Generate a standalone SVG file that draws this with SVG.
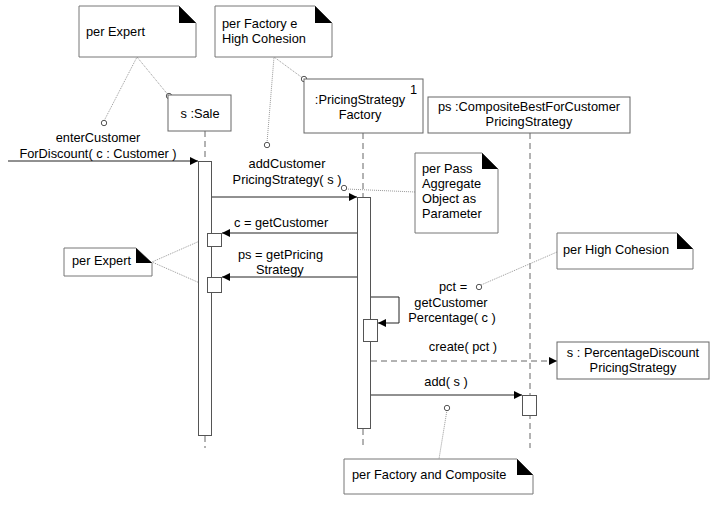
<svg xmlns="http://www.w3.org/2000/svg" width="719" height="517" viewBox="0 0 719 517">
<style>
text{font-family:"Liberation Sans",Arial,sans-serif;font-size:12.8px;fill:#000}
.c{text-anchor:middle}
.box{fill:#fff;stroke:#666;stroke-width:1}
.note{fill:#fff;stroke:#777;stroke-width:1}
.fold{fill:#000}
.life{stroke:#666;stroke-width:1;stroke-dasharray:6,4;fill:none}
.act{fill:#fff;stroke:#555;stroke-width:1}
.msg{stroke:#222;stroke-width:1;fill:none;marker-end:url(#ah)}
.dmsg{stroke:#666;stroke-width:1;fill:none;stroke-dasharray:6,4;marker-end:url(#ah)}
.dot{stroke:#999;stroke-width:1;stroke-dasharray:1,1;fill:none}
.anc{fill:#fff;stroke:#555;stroke-width:1}
</style>
<defs>
<marker id="ah" viewBox="0 0 10 10" refX="10" refY="5" markerUnits="userSpaceOnUse" markerWidth="8" markerHeight="8" orient="auto">
<path d="M0,0 L10,5 L0,10 z" fill="#000"/>
</marker>
</defs>
<rect width="719" height="517" fill="#fff"/>

<g id="connectors">
<line class="life" x1="205" y1="131" x2="205" y2="161"/>
<line class="life" x1="205" y1="436" x2="205" y2="448"/>
<line class="life" x1="363" y1="133" x2="363" y2="197"/>
<line class="life" x1="363" y1="429" x2="363" y2="448"/>
<line class="life" x1="530" y1="133" x2="530" y2="448"/>
<line class="msg" x1="8" y1="161" x2="198" y2="161"/>
<line class="msg" x1="212" y1="197" x2="357" y2="197"/>
<line class="msg" x1="357" y1="233" x2="222" y2="233"/>
<line class="msg" x1="357" y1="277" x2="222" y2="277"/>
<polyline class="msg" points="371,297 399,297 399,323 378,323"/>
<line class="dmsg" x1="371" y1="361" x2="557" y2="361"/>
<line class="msg" x1="371" y1="395" x2="522" y2="395"/>
<polyline class="dot" points="104,121 137,57 169,96"/>
<polyline class="dot" points="267,143 274,57 304,79"/>
<line class="dot" x1="346" y1="189" x2="415" y2="192"/>
<line class="dot" x1="481" y1="285" x2="557" y2="252"/>
<polyline class="dot" points="202,240 152,262 202,284"/>
<line class="dot" x1="447" y1="410" x2="439" y2="459"/>
<g id="anchors">
<circle class="anc" cx="104" cy="123" r="2.7"/>
<circle class="anc" cx="169" cy="96" r="2.7"/>
<circle class="anc" cx="267" cy="145" r="2.7"/>
<circle class="anc" cx="304" cy="79" r="2.7"/>
<circle class="anc" cx="344" cy="188" r="2.7"/>
<circle class="anc" cx="479" cy="287" r="2.7"/>
<circle class="anc" cx="202" cy="240" r="2.7"/>
<circle class="anc" cx="202" cy="284" r="2.7"/>
<circle class="anc" cx="447" cy="408" r="2.7"/>
</g>
</g>

<g id="sale">
<rect class="box" x="168" y="95" width="63" height="36"/>
<text class="c" x="200" y="118">s :Sale</text>
<rect class="act" x="198.5" y="161.5" width="13" height="274"/>
<rect class="act" x="207.5" y="233.5" width="14" height="13"/>
<rect class="act" x="207.5" y="277.5" width="14" height="15"/>
</g>

<g id="factory">
<rect class="box" x="304" y="79" width="119" height="54"/>
<text class="c" x="360" y="104">:PricingStrategy</text>
<text class="c" x="360" y="119">Factory</text>
<text x="410" y="94">1</text>
<rect class="act" x="357.5" y="197.5" width="13" height="231"/>
<rect class="act" x="363.5" y="319.5" width="14" height="22"/>
</g>

<g id="composite">
<rect class="box" x="428" y="97" width="202" height="36"/>
<text class="c" x="529" y="111">ps :CompositeBestForCustomer</text>
<text class="c" x="529" y="126">PricingStrategy</text>
<rect class="act" x="522.5" y="395.5" width="14" height="20"/>
</g>

<g id="percentage">
<rect class="box" x="557" y="342" width="152" height="37"/>
<text class="c" x="633" y="357">s : PercentageDiscount</text>
<text class="c" x="633" y="372">PricingStrategy</text>
</g>

<g id="note-expert1">
<polygon class="note" points="79,6 179,6 196,23 196,57 79,57"/>
<polygon class="fold" points="179,6 179,23 196,23"/>
<text x="86" y="36">per Expert</text>
</g>

<g id="note-factory">
<polygon class="note" points="215,6 315,6 332,23 332,57 215,57"/>
<polygon class="fold" points="315,6 315,23 332,23"/>
<text x="222" y="28">per Factory e</text>
<text x="222" y="43">High Cohesion</text>
</g>

<g id="note-pass">
<polygon class="note" points="415,153 482,153 498,169 498,233 415,233"/>
<polygon class="fold" points="482,153 482,169 498,169"/>
<text x="422" y="173">per Pass</text>
<text x="422" y="188">Aggregate</text>
<text x="422" y="203">Object as</text>
<text x="422" y="218">Parameter</text>
</g>

<g id="note-cohesion">
<polygon class="note" points="557,233 677,233 693,249 693,269 557,269"/>
<polygon class="fold" points="677,233 677,249 693,249"/>
<text x="563" y="254">per High Cohesion</text>
</g>

<g id="note-expert2">
<polygon class="note" points="64,248 136,248 152,263 152,276 64,276"/>
<polygon class="fold" points="136,248 136,263 152,263"/>
<text x="72" y="265">per Expert</text>
</g>

<g id="note-composite">
<polygon class="note" points="344,459 517,459 533,475 533,494 344,494"/>
<polygon class="fold" points="517,459 517,475 533,475"/>
<text x="352" y="479">per Factory and Composite</text>
</g>

<g id="labels">
<text class="c" x="98" y="142">enterCustomer</text>
<text class="c" x="98" y="158">ForDiscount( c : Customer )</text>
<text class="c" x="287" y="168">addCustomer</text>
<text class="c" x="287" y="184">PricingStrategy( s )</text>
<text x="234" y="227">c = getCustomer</text>
<text x="238" y="259">ps = getPricing</text>
<text x="256" y="274">Strategy</text>
<text x="439" y="291">pct =</text>
<text class="c" x="451" y="307">getCustomer</text>
<text class="c" x="452" y="322">Percentage( c )</text>
<text class="c" x="463" y="351">create( pct )</text>
<text class="c" x="446" y="386">add( s )</text>
</g>
</svg>
